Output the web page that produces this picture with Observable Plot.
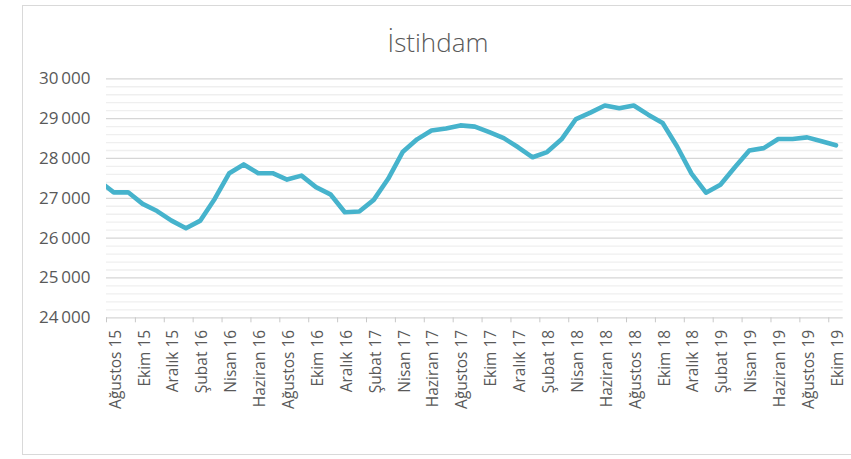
<!DOCTYPE html>
<html>
<head>
<meta charset="utf-8">
<script src="https://cdn.jsdelivr.net/npm/d3@7"></script>
<script src="https://cdn.jsdelivr.net/npm/@observablehq/plot@0.6"></script>
<style>
  html, body { margin: 0; padding: 0; background: #fff; overflow: hidden; }
  #wrap { position: relative; width: 851px; height: 459px; }
  #frame { position: absolute; left: 22px; top: 5px; width: 860px; height: 450px; border: 1.5px solid #d9d9d9; box-sizing: border-box; }
  #title { position: absolute; left: 0; top: 29px; width: 876px; text-align: center; font-family: "Open Sans", sans-serif; font-weight: 300; font-size: 26px; line-height: 1; color: #595959; }
  #chart { position: absolute; left: 0; top: 0; }
</style>
</head>
<body>
<div id="wrap">
  <div id="frame"></div>
  <div id="title">İstihdam</div>
  <div id="chart"></div>
</div>
<script>
// Monthly categories (first one, Temmuz 15, sits just outside the plot and is clipped)
const categories = ["Temmuz 15","Ağustos 15","Eylül 15","Ekim 15","Kasım 15","Aralık 15","Ocak 16","Şubat 16","Mart 16","Nisan 16","Mayıs 16","Haziran 16","Temmuz 16","Ağustos 16","Eylül 16","Ekim 16","Kasım 16","Aralık 16","Ocak 17","Şubat 17","Mart 17","Nisan 17","Mayıs 17","Haziran 17","Temmuz 17","Ağustos 17","Eylül 17","Ekim 17","Kasım 17","Aralık 17","Ocak 18","Şubat 18","Mart 18","Nisan 18","Mayıs 18","Haziran 18","Temmuz 18","Ağustos 18","Eylül 18","Ekim 18","Kasım 18","Aralık 18","Ocak 19","Şubat 19","Mart 19","Nisan 19","Mayıs 19","Haziran 19","Temmuz 19","Ağustos 19","Eylül 19","Ekim 19"];
const values = [27430, 27150, 27150, 26860, 26680, 26440, 26250, 26440, 26990, 27630, 27850, 27630, 27630, 27470, 27570, 27280, 27100, 26650, 26670, 26960, 27490, 28160, 28480, 28700, 28750, 28830, 28800, 28660, 28510, 28280, 28030, 28160, 28480, 28990, 29150, 29330, 29260, 29330, 29100, 28890, 28300, 27620, 27140, 27340, 27780, 28200, 28260, 28490, 28490, 28530, 28430, 28330];
const yTicks = [24000, 25000, 26000, 27000, 28000, 29000, 30000];
const yMinor = d3.range(24200, 30000, 200).filter(v => v % 1000 !== 0);

// position index: Ağustos 15 = 0
const data = categories.map((c, i) => ({ idx: i - 1, label: c, value: values[i] }));
const shown = data.filter(d => d.idx >= 0);
const labelIdx = shown.filter(d => d.idx % 2 === 0);
const tickBounds = labelIdx.map(d => d.idx - 0.5);

const fmt = v => `${Math.floor(v / 1000)}\u2009${String(v % 1000).padStart(3, "0")}`;

const chart = Plot.plot({
  width: 851,
  height: 459,
  marginTop: 78.3,
  marginBottom: 141.7,
  marginLeft: 106,
  marginRight: 8.3,
  style: { background: "transparent", fontFamily: "Open Sans, sans-serif", color: "#595959" },
  x: { type: "linear", domain: [-0.5, 50.5], axis: null },
  y: { domain: [24000, 30000], axis: null },
  marks: [
    Plot.ruleY(yMinor, { stroke: "#efefef", strokeWidth: 1.3 }),
    Plot.ruleY(yTicks, { stroke: "#d6d6d6", strokeWidth: 1.3 }),
    Plot.axisY({ ticks: yTicks, tickSize: 0, tickPadding: 16, tickFormat: fmt, fontSize: 17, fill: "#595959", label: null }),
    Plot.axisX({ ticks: tickBounds, tickSize: 5, tickFormat: () => "", stroke: "#c8c8c8", label: null }),
    Plot.text(labelIdx, {
      x: "idx", text: "label", frameAnchor: "bottom", rotate: -90,
      textAnchor: "end", lineAnchor: "middle", dy: 12, dx: 2,
      fontSize: 15.5, fill: "#595959"
    }),
    Plot.line(data, { x: "idx", y: "value", stroke: "#46b3cc", strokeWidth: 4.6, strokeLinejoin: "round", strokeLinecap: "round", clip: true })
  ]
});
document.getElementById("chart").appendChild(chart);
</script>
</body>
</html>
